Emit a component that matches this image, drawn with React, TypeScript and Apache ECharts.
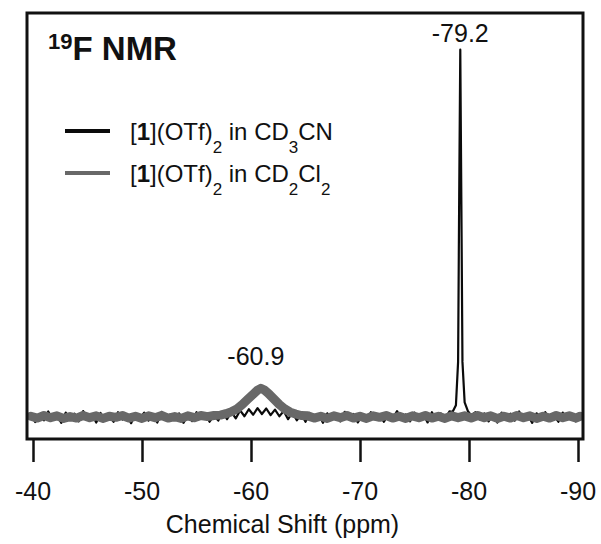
import React, { useEffect, useRef } from "react";
import * as echarts from "echarts";

const FONT = "'Liberation Sans', Arial, Helvetica, sans-serif";

const shiftTicks = [-40, -50, -60, -70, -80, -90];
const seriesNames = ["[1](OTf)2 in CD3CN", "[1](OTf)2 in CD2Cl2"];
const seriesColors = ["#0b0b0b", "#686868"];
const peakShifts = [-79.2, -60.9];
const peakLabels = ["-79.2", "-60.9"];
const axisTitle = "Chemical Shift (ppm)";

// [chemical shift (ppm), intensity (a.u.)] — CD3CN solution (black)
const cd3cnSpectrum: [number, number][] = [
  [-39.8, 0.010], [-40.2, -0.014], [-40.6, 0.006], [-41.0, -0.009], [-41.4, 0.015],
  [-41.8, -0.007], [-42.2, 0.004], [-42.6, -0.016], [-43.0, 0.012], [-43.4, -0.005],
  [-43.8, 0.009], [-44.2, -0.012], [-44.6, 0.016], [-45.0, -0.004], [-45.4, 0.007],
  [-45.8, -0.015], [-46.2, 0.011], [-46.6, -0.010], [-47.0, 0.003], [-47.4, -0.013],
  [-47.8, 0.013], [-48.2, -0.007], [-48.6, 0.006], [-49.0, -0.017], [-49.4, 0.009],
  [-49.8, -0.004], [-50.2, 0.012], [-50.6, -0.010], [-51.0, 0.004], [-51.4, -0.015],
  [-51.8, 0.014], [-52.2, -0.008], [-52.6, 0.007], [-53.0, -0.006], [-53.4, 0.010],
  [-53.8, -0.016], [-54.2, 0.005], [-54.6, -0.011], [-55.0, 0.013], [-55.4, -0.003],
  [-55.8, 0.008], [-56.2, -0.013], [-56.6, 0.004], [-57.0, -0.010], [-57.4, 0.015],
  [-57.8, -0.006], [-58.2, 0.014], [-58.6, -0.004], [-59.0, 0.018], [-59.4, 0.002],
  [-59.8, 0.021], [-60.2, 0.006], [-60.6, 0.024], [-61.0, 0.008], [-61.4, 0.023],
  [-61.8, 0.005], [-62.2, 0.020], [-62.6, 0.002], [-63.0, 0.016], [-63.4, -0.006],
  [-63.8, 0.012], [-64.2, -0.009], [-64.6, 0.008], [-65.0, -0.013], [-65.4, 0.011],
  [-65.8, -0.005], [-66.2, 0.007], [-66.6, -0.016], [-67.0, 0.010], [-67.4, -0.008],
  [-67.8, 0.004], [-68.2, -0.012], [-68.6, 0.014], [-69.0, -0.004], [-69.4, 0.008],
  [-69.8, -0.015], [-70.2, 0.005], [-70.6, -0.010], [-71.0, 0.013], [-71.4, -0.007],
  [-71.8, 0.003], [-72.2, -0.013], [-72.6, 0.010], [-73.0, -0.005], [-73.4, 0.016],
  [-73.8, -0.008], [-74.2, 0.007], [-74.6, -0.012], [-75.0, 0.012], [-75.4, -0.004],
  [-75.8, 0.009], [-76.2, -0.015], [-76.6, 0.013], [-77.0, -0.007], [-77.4, 0.010],
  [-77.8, -0.005], [-78.2, 0.015], [-78.5, 0.014], [-78.8, 0.032], [-79.0, 0.150],
  [-79.1, 0.600], [-79.2, 1.000], [-79.3, 0.580], [-79.4, 0.150], [-79.6, 0.040],
  [-79.9, 0.016], [-80.2, 0.004], [-80.6, 0.013], [-81.0, -0.007], [-81.4, 0.010],
  [-81.8, -0.012], [-82.2, 0.007], [-82.6, -0.015], [-83.0, 0.012], [-83.4, -0.004],
  [-83.8, 0.009], [-84.2, -0.010], [-84.6, 0.015], [-85.0, -0.007], [-85.4, 0.005],
  [-85.8, -0.016], [-86.2, 0.010], [-86.6, -0.005], [-87.0, 0.013], [-87.4, -0.009],
  [-87.8, 0.004], [-88.2, -0.013], [-88.6, 0.012], [-89.0, -0.004], [-89.4, 0.009],
  [-89.8, -0.012], [-90.2, 0.007],
];

// [chemical shift (ppm), intensity (a.u.)] — CD2Cl2 solution (grey)
const cd2cl2Spectrum: [number, number][] = [
  [-39.8, 0.002], [-40.4, -0.003], [-41.0, 0.004], [-41.6, -0.002], [-42.2, 0.003],
  [-42.8, -0.004], [-43.4, 0.001], [-44.0, -0.003], [-44.6, 0.004], [-45.2, -0.002],
  [-45.8, 0.003], [-46.4, -0.004], [-47.0, 0.002], [-47.6, -0.001], [-48.2, 0.004],
  [-48.8, -0.003], [-49.4, 0.002], [-50.0, -0.004], [-50.6, 0.003], [-51.2, -0.002],
  [-51.8, 0.004], [-52.4, -0.003], [-53.0, 0.001], [-53.6, -0.004], [-54.2, 0.003],
  [-54.8, -0.002], [-55.4, 0.004], [-56.0, 0.001], [-56.6, 0.004], [-57.2, 0.005],
  [-57.7, 0.009], [-58.2, 0.014], [-58.7, 0.022], [-59.2, 0.034], [-59.7, 0.048],
  [-60.2, 0.062], [-60.6, 0.073], [-60.9, 0.078], [-61.2, 0.074], [-61.6, 0.064],
  [-62.1, 0.049], [-62.6, 0.034], [-63.1, 0.022], [-63.6, 0.013], [-64.1, 0.008],
  [-64.6, 0.004], [-65.2, 0.003], [-65.8, -0.003], [-66.4, 0.002], [-67.0, -0.004],
  [-67.6, 0.003], [-68.2, -0.002], [-68.8, 0.004], [-69.4, -0.003], [-70.0, 0.002],
  [-70.6, -0.004], [-71.2, 0.003], [-71.8, -0.001], [-72.4, 0.004], [-73.0, -0.003],
  [-73.6, 0.002], [-74.2, -0.004], [-74.8, 0.003], [-75.4, -0.002], [-76.0, 0.004],
  [-76.6, -0.003], [-77.2, 0.002], [-77.8, -0.004], [-78.4, 0.003], [-79.0, -0.002],
  [-79.6, 0.003], [-80.2, -0.003], [-80.8, 0.004], [-81.4, -0.002], [-82.0, 0.003],
  [-82.6, -0.004], [-83.2, 0.002], [-83.8, -0.003], [-84.4, 0.004], [-85.0, -0.002],
  [-85.6, 0.003], [-86.2, -0.004], [-86.8, 0.002], [-87.4, -0.003], [-88.0, 0.004],
  [-88.6, -0.002], [-89.2, 0.003], [-89.8, -0.003], [-90.2, 0.002],
];

const legendRichNames: Record<string, string> = {
  "[1](OTf)2 in CD3CN": "{g| }{n|[}{b|1}{n|](OTf)}{s|2}{n| in CD}{s|3}{n|CN}",
  "[1](OTf)2 in CD2Cl2": "{g| }{n|[}{b|1}{n|](OTf)}{s|2}{n| in CD}{s|2}{n|Cl}{s|2}",
};

function peakValue(data: [number, number][], shift: number): number {
  const pt = data.find((d) => Math.abs(d[0] - shift) < 1e-6);
  return pt ? pt[1] : 0;
}

export default function App() {
  const ref = useRef<HTMLDivElement>(null);

  useEffect(() => {
    if (!ref.current) return;
    const chart = echarts.init(ref.current, null, { renderer: "svg" });
    const spectra = [cd3cnSpectrum, cd2cl2Spectrum];

    const option: any = {
      animation: false,
      backgroundColor: "#ffffff",
      textStyle: { fontFamily: FONT },
      grid: { left: 33, right: 23, top: 13, bottom: 105 },
      xAxis: {
        type: "value",
        min: Math.min(...shiftTicks),
        max: Math.max(...shiftTicks),
        interval: 10,
        inverse: true,
        axisLine: { show: false, onZero: false },
        axisTick: { show: true, inside: false, length: 23, lineStyle: { color: "#111", width: 2.5 } },
        splitLine: { show: false },
        axisLabel: { fontSize: 25, color: "#111", margin: 39, fontFamily: FONT },
        name: axisTitle,
        nameLocation: "middle",
        nameGap: 72,
        nameTextStyle: { fontSize: 25, color: "#111", fontFamily: FONT, padding: [0, 46, 0, 0] },
      },
      yAxis: { type: "value", show: false, min: -0.06, max: 1.1 },
      legend: {
        orient: "vertical",
        left: 65,
        top: 106,
        padding: 0,
        itemGap: -8,
        itemWidth: 45,
        itemHeight: 4,
        icon: "rect",
        selectedMode: false,
        data: seriesNames,
        formatter: (name: string) => legendRichNames[name] || name,
        textStyle: {
          fontSize: 24,
          color: "#111",
          fontFamily: FONT,
          rich: {
            g: { width: 15, fontSize: 24, lineHeight: 30, verticalAlign: "middle" },
            n: { fontSize: 24, lineHeight: 30, color: "#111", fontFamily: FONT, verticalAlign: "middle" },
            b: { fontSize: 24, lineHeight: 30, fontWeight: "bold", color: "#111", fontFamily: FONT, verticalAlign: "middle" },
            s: { fontSize: 17, lineHeight: 17, color: "#111", fontFamily: FONT, padding: [33, 0, 0, 0], verticalAlign: "middle" },
          },
        },
      },
      graphic: [
        {
          type: "rect",
          silent: true,
          z: 100,
          shape: { x: 27, y: 13, width: 556, height: 426 },
          style: { fill: "none", stroke: "#111", lineWidth: 3 },
        },
        {
          type: "text",
          silent: true,
          z: 100,
          x: 48,
          y: 30,
          style: {
            text: "{sup|19}{t|F NMR}",
            verticalAlign: "top",
            fill: "#111",
            rich: {
              sup: { fontSize: 22, fontWeight: "bold", lineHeight: 22, verticalAlign: "top", fill: "#111", fontFamily: FONT },
              t: { fontSize: 33, fontWeight: "bold", lineHeight: 36, verticalAlign: "middle", fill: "#111", fontFamily: FONT },
            },
          },
        },
      ],
      series: seriesNames.map((name, i) => ({
        type: "line",
        name,
        data: spectra[i],
        symbol: "none",
        showSymbol: false,
        clip: false,
        silent: true,
        z: i === 0 ? 2 : 3,
        color: seriesColors[i],
        itemStyle: { color: seriesColors[i] },
        lineStyle: { color: seriesColors[i], width: i === 0 ? 2.2 : 9, join: "round", cap: "round" },
        emphasis: { disabled: true },
        markPoint: {
          silent: true,
          symbol: "circle",
          symbolSize: 0,
          data: [
            {
              coord: [peakShifts[i], peakValue(spectra[i], peakShifts[i])],
              label: {
                show: true,
                formatter: peakLabels[i],
                position: "top",
                distance: i === 0 ? 4 : 20,
                offset: i === 0 ? [0, 0] : [-5, 0],
                fontSize: 25,
                color: "#111",
                fontFamily: FONT,
              },
            },
          ],
        },
      })),
    };

    chart.setOption(option);
    return () => chart.dispose();
  }, []);

  return (
    <div
      ref={ref}
      style={{ position: "fixed", left: 0, top: 0, width: 601, height: 544, background: "#fff" }}
    />
  );
}
